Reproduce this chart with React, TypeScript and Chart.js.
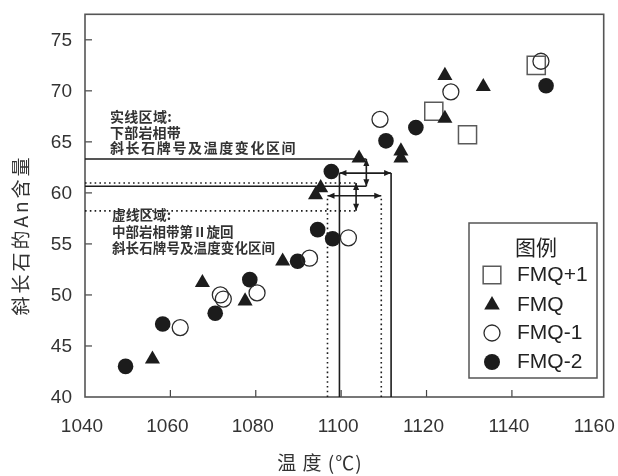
import React, { useEffect, useRef } from "react";
import { Chart, registerables } from "chart.js";

Chart.register(...registerables);

// ---------- data ----------
const xTickValues = [1040, 1060, 1080, 1100, 1120, 1140, 1160];
const yTickValues = [40, 45, 50, 55, 60, 65, 70, 75];

const legendOrder = ["FMQ+1", "FMQ", "FMQ-1", "FMQ-2"];

const fmqPlus1Temp = [1145.7, 1121.7, 1129.6];
const fmqPlus1An = [72.5, 68.0, 65.7];

const fmqTemp = [1055.8, 1067.5, 1077.5, 1086.3, 1094.0, 1095.2, 1104.2, 1114.0, 1114.0, 1124.3, 1124.3, 1133.3];
const fmqAn = [43.7, 51.2, 49.4, 53.3, 59.8, 60.5, 63.4, 64.1, 63.4, 71.5, 67.3, 70.4];

const fmqMinus1Temp = [1062.3, 1071.7, 1072.4, 1080.3, 1092.6, 1101.7, 1109.1, 1125.7, 1146.8];
const fmqMinus1An = [46.8, 50.0, 49.6, 50.2, 53.6, 55.6, 67.2, 69.9, 72.9];

const fmqMinus2Temp = [1049.5, 1058.2, 1070.5, 1078.6, 1089.8, 1094.5, 1098.0, 1097.7, 1110.5, 1117.5, 1148.0];
const fmqMinus2An = [43.0, 47.15, 48.2, 51.5, 53.3, 56.4, 55.5, 62.1, 65.1, 66.4, 70.5];

// solid-line region (lower facies zone)
const solidTempRange = [1099.6, 1111.7];
const solidAnRange = [60.65, 63.32];
const solidArrowAn = 61.94;
const solidArrowTemp = 1105.9;

// dotted-line region (middle facies zone, cycle II)
const dottedTempRange = [1096.8, 1109.4];
const dottedAnRange = [58.24, 60.97];
const dottedArrowAn = 59.72;
const dottedArrowTemp = 1103.5;

const solidNote = ["实线区域:", "下部岩相带", "斜长石牌号及温度变化区间"];
const dottedNote = ["虚线区域:", "中部岩相带第Ⅱ旋回", "斜长石牌号及温度变化区间"];
const xTitle = "温 度 (℃)";
const yTitle = "斜长石的An含量";
const legendTitle = "图例";

// ---------- helpers ----------
const INK = "#1c1c1c";
const CJK = '"Noto Sans CJK SC", sans-serif';
const LAT = '"Liberation Sans", Arial, sans-serif';

function seg(ctx: CanvasRenderingContext2D, x1: number, y1: number, x2: number, y2: number) {
  ctx.beginPath();
  ctx.moveTo(x1, y1);
  ctx.lineTo(x2, y2);
  ctx.stroke();
}

function arrowHead(ctx: CanvasRenderingContext2D, x: number, y: number, angle: number) {
  ctx.save();
  ctx.translate(x, y);
  ctx.rotate(angle);
  ctx.beginPath();
  ctx.moveTo(0, 0);
  ctx.lineTo(-7, -3);
  ctx.lineTo(-7, 3);
  ctx.closePath();
  ctx.fill();
  ctx.restore();
}

function doubleArrow(ctx: CanvasRenderingContext2D, x1: number, y1: number, x2: number, y2: number) {
  ctx.save();
  ctx.setLineDash([]);
  seg(ctx, x1, y1, x2, y2);
  const a = Math.atan2(y2 - y1, x2 - x1);
  arrowHead(ctx, x2, y2, a);
  arrowHead(ctx, x1, y1, a + Math.PI);
  ctx.restore();
}

function drawMarker(ctx: CanvasRenderingContext2D, style: string, x: number, y: number, r: number, fill: string, stroke: string, lw: number) {
  ctx.save();
  ctx.beginPath();
  if (style === "rect") {
    const s = Math.SQRT1_2 * r;
    ctx.rect(x - s, y - s, 2 * s, 2 * s);
  } else if (style === "triangle") {
    for (let i = 0; i < 3; i++) {
      const ang = -Math.PI / 2 + (i * 2 * Math.PI) / 3;
      const px = x + Math.cos(ang) * r;
      const py = y + Math.sin(ang) * r;
      if (i === 0) ctx.moveTo(px, py);
      else ctx.lineTo(px, py);
    }
    ctx.closePath();
  } else {
    ctx.arc(x, y, r, 0, Math.PI * 2);
  }
  ctx.fillStyle = fill;
  ctx.fill();
  if (lw > 0) {
    ctx.lineWidth = lw;
    ctx.strokeStyle = stroke;
    ctx.stroke();
  }
  ctx.restore();
}

function text(ctx: CanvasRenderingContext2D, s: string, x: number, y: number, font: string, spacing: number, align: CanvasTextAlign = "left", color = "#222") {
  ctx.save();
  ctx.font = font;
  (ctx as any).letterSpacing = spacing + "px";
  ctx.fillStyle = color;
  ctx.textAlign = align;
  ctx.textBaseline = "middle";
  ctx.fillText(s, x, y);
  ctx.restore();
}

// ---------- plugins ----------
const framePlugin = {
  id: "frame",
  beforeDatasetsDraw(chart: any) {
    const { ctx, chartArea: a, scales } = chart;
    ctx.save();
    ctx.strokeStyle = "#444";
    ctx.lineWidth = 1.2;
    xTickValues.forEach((v) => {
      const p = scales.x.getPixelForValue(v);
      if (p > a.left + 2 && p < a.right - 10) seg(ctx, p, a.bottom, p, a.bottom - 7);
    });
    yTickValues.forEach((v) => {
      const p = scales.y.getPixelForValue(v);
      if (p < a.bottom - 2 && p > a.top + 2) seg(ctx, a.left, p, a.left + 7, p);
    });
    ctx.strokeStyle = "#555";
    ctx.lineWidth = 1.6;
    ctx.strokeRect(a.left, a.top, a.right - a.left, a.bottom - a.top);
    ctx.restore();
  },
};

const regionPlugin = {
  id: "regions",
  beforeDatasetsDraw(chart: any) {
    const { ctx, chartArea: a, scales } = chart;
    const X = (v: number) => scales.x.getPixelForValue(v);
    const Y = (v: number) => scales.y.getPixelForValue(v);
    ctx.save();
    ctx.strokeStyle = INK;
    ctx.fillStyle = INK;
    ctx.lineWidth = 1.6;

    // solid region
    ctx.setLineDash([]);
    solidAnRange.forEach((an) => seg(ctx, a.left, Y(an), X(solidArrowTemp), Y(an)));
    solidTempRange.forEach((t) => seg(ctx, X(t), Y(solidArrowAn), X(t), a.bottom));
    doubleArrow(ctx, X(solidTempRange[0]), Y(solidArrowAn), X(solidTempRange[1]), Y(solidArrowAn));
    doubleArrow(ctx, X(solidArrowTemp), Y(solidAnRange[1]), X(solidArrowTemp), Y(solidAnRange[0]));

    // dotted region
    ctx.setLineDash([1.6, 3.2]);
    dottedAnRange.forEach((an) => seg(ctx, a.left, Y(an), X(dottedArrowTemp), Y(an)));
    dottedTempRange.forEach((t) => seg(ctx, X(t), Y(dottedArrowAn) + 3, X(t), a.bottom));
    doubleArrow(ctx, X(dottedTempRange[0]), Y(dottedArrowAn), X(dottedTempRange[1]), Y(dottedArrowAn));
    doubleArrow(ctx, X(dottedArrowTemp), Y(dottedAnRange[1]), X(dottedArrowTemp), Y(dottedAnRange[0]));
    ctx.restore();

    // notes
    const f1 = `bold 14px ${CJK}`;
    text(ctx, solidNote[0], a.left + 25, 117, f1, 0.3, "left", "#333");
    text(ctx, solidNote[1], a.left + 25, 133, f1, 0.2, "left", "#333");
    text(ctx, solidNote[2], a.left + 25, 148, f1, 1.6, "left", "#333");
    const f2 = `bold 13.5px ${CJK}`;
    text(ctx, dottedNote[0], a.left + 27, 215, f2, 0.2, "left", "#333");
    text(ctx, dottedNote[1], a.left + 27, 232, f2, 0, "left", "#333");
    text(ctx, dottedNote[2], a.left + 27, 248, f2, 0.1, "left", "#333");
  },
};

const titlePlugin = {
  id: "titles",
  afterDraw(chart: any) {
    const { ctx } = chart;
    text(ctx, xTitle, 320, 463, `19px ${CJK}`, 1, "center", "#333");
    ctx.save();
    ctx.translate(21, 235);
    ctx.rotate(-Math.PI / 2);
    text(ctx, yTitle, 0, 0, `19px ${CJK}`, 3, "center", "#333");
    ctx.restore();
  },
};

const legendPlugin = {
  id: "customLegend",
  afterDatasetsDraw(chart: any) {
    const { ctx } = chart;
    const L = 469, T = 223, R = 597, B = 378;
    ctx.save();
    ctx.fillStyle = "#fff";
    ctx.fillRect(L, T, R - L, B - T);
    ctx.strokeStyle = "#555";
    ctx.lineWidth = 1.5;
    ctx.strokeRect(L, T, R - L, B - T);
    ctx.restore();
    text(ctx, legendTitle, 536, 247, `21px ${CJK}`, 0, "center");
    const rows = [275, 305, 333, 362];
    legendOrder.forEach((lab, i) => {
      const ds = chart.data.datasets.find((d: any) => d.label === lab);
      if (!ds) return;
      const r = ds.pointStyle === "rect" ? 12.5 : ds.pointStyle === "triangle" ? 9 : 8;
      drawMarker(ctx, ds.pointStyle, 492, rows[i], r, ds.backgroundColor, ds.borderColor, ds.borderWidth);
      text(ctx, lab, 517, rows[i], `21px ${LAT}`, 0, "left", "#222");
    });
  },
};

// ---------- component ----------
export default function App() {
  const ref = useRef<HTMLCanvasElement>(null);

  useEffect(() => {
    const canvas = ref.current;
    if (!canvas) return;
    const mk = (label: string, t: number[], an: number[], style: string, r: number, bg: string, border: string, bw: number) => ({
      label,
      data: t.map((v, i) => ({ x: v, y: an[i] })),
      pointStyle: style,
      pointRadius: r,
      pointHoverRadius: r,
      backgroundColor: bg,
      borderColor: border,
      borderWidth: bw,
      showLine: false,
    });
    const datasets = [
      mk("FMQ-1", fmqMinus1Temp, fmqMinus1An, "circle", 8, "rgba(255,255,255,0)", "#2b2b2b", 1.3),
      mk("FMQ-2", fmqMinus2Temp, fmqMinus2An, "circle", 7.8, INK, INK, 0),
      mk("FMQ", fmqTemp, fmqAn, "triangle", 8.7, INK, INK, 0),
      mk("FMQ+1", fmqPlus1Temp, fmqPlus1An, "rect", 12.8, "rgba(255,255,255,0)", "#5a5a5a", 1.5),
    ];

    const tickFont = { family: '"Liberation Sans", Arial, sans-serif', size: 19 };
    const chart = new Chart(canvas, {
      type: "scatter",
      data: { datasets: datasets as any },
      options: {
        responsive: false,
        animation: false,
        events: [],
        layout: { padding: { left: 0, right: 11, top: 9, bottom: 0 } },
        plugins: { legend: { display: false }, tooltip: { enabled: false }, title: { display: false } },
        scales: {
          x: {
            type: "linear",
            min: 1040,
            max: 1161.5,
            afterBuildTicks: (s: any) => {
              s.ticks = xTickValues.map((v) => ({ value: v }));
            },
            afterFit: (s: any) => {
              s.height = 79;
              s.paddingLeft = 0;
              s.paddingRight = 0;
            },
            grid: { display: false, drawTicks: false },
            border: { display: false },
            ticks: {
              font: tickFont,
              color: "#333",
              padding: 18,
              labelOffset: -3,
              maxRotation: 0,
              autoSkip: false,
              callback: (v: any) => String(v),
            },
          },
          y: {
            type: "linear",
            min: 40,
            max: 77.5,
            afterBuildTicks: (s: any) => {
              s.ticks = yTickValues.map((v) => ({ value: v }));
            },
            afterFit: (s: any) => {
              s.width = 85;
              s.paddingTop = 0;
              s.paddingBottom = 0;
            },
            grid: { display: false, drawTicks: false },
            border: { display: false },
            ticks: { font: tickFont, color: "#333", padding: 13, labelOffset: 1, autoSkip: false, callback: (v: any) => String(v) },
          },
        },
      },
      plugins: [framePlugin, regionPlugin, titlePlugin, legendPlugin],
    });
    return () => chart.destroy();
  }, []);

  return (
    <div style={{ position: "absolute", left: 0, top: 0, width: 618, height: 476, background: "#fff" }}>
      <canvas ref={ref} width={618} height={476} style={{ display: "block" }} />
    </div>
  );
}
